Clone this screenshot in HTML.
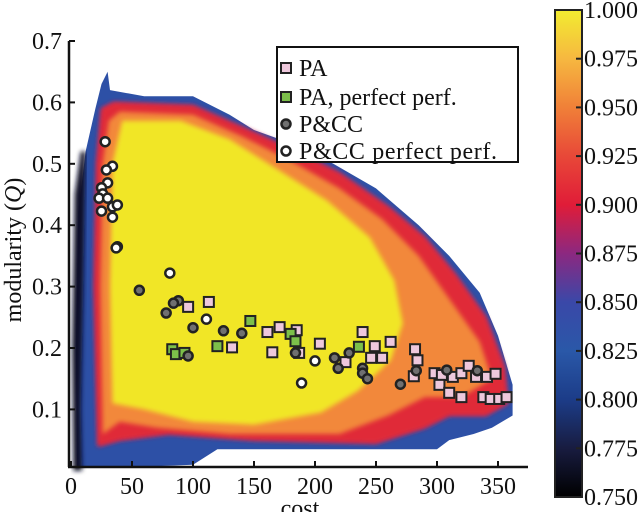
<!DOCTYPE html>
<html><head><meta charset="utf-8"><style>
html,body{margin:0;padding:0;background:#fff;}
svg{display:block;font-family:"Liberation Serif",serif;}
</style></head><body>
<svg id="chart" width="640" height="512" viewBox="0 0 640 512" xmlns="http://www.w3.org/2000/svg">
<defs>
<linearGradient id="cbar" x1="0" y1="1" x2="0" y2="0">
<stop offset="0" stop-color="#000000"/>
<stop offset="0.1" stop-color="#181c40"/>
<stop offset="0.2" stop-color="#1c3c88"/>
<stop offset="0.3" stop-color="#2a58a8"/>
<stop offset="0.4" stop-color="#3a48a8"/>
<stop offset="0.5" stop-color="#8c2880"/>
<stop offset="0.6" stop-color="#e01c38"/>
<stop offset="0.7" stop-color="#e84838"/>
<stop offset="0.8" stop-color="#f08038"/>
<stop offset="0.9" stop-color="#f6b840"/>
<stop offset="1" stop-color="#f2ec30"/>
</linearGradient>
<filter id="soft" x="-10%" y="-10%" width="120%" height="120%"><feGaussianBlur stdDeviation="2.5"/></filter>
</defs>
<g id="heat"></g>
<g id="axes"></g>
<g id="marks"></g>
<g id="legend"></g>
<g id="colorbar"></g>
</svg>
<script>
// data
const xTicks = [0, 50, 100, 150, 200, 250, 300, 350];
const yTicks = [0.1, 0.2, 0.3, 0.4, 0.5, 0.6, 0.7];
const cbTicks = [1.000, 0.975, 0.950, 0.925, 0.900, 0.875, 0.850, 0.825, 0.800, 0.775, 0.750];
const paCost = [113,96,161,171,185,132,165,187,204,225,239,249,246,255,262,282,284,281,298,304,302,310,313,320,326,332,341,348,320,338,344,351,357];
const paQ = [0.275,0.267,0.226,0.234,0.229,0.201,0.193,0.192,0.207,0.177,0.226,0.203,0.184,0.184,0.210,0.198,0.180,0.154,0.159,0.156,0.140,0.127,0.153,0.159,0.171,0.153,0.153,0.158,0.120,0.120,0.117,0.117,0.120];
const paPerfCost = [147,120,83,86,93,180,184,236];
const paPerfQ = [0.244,0.203,0.198,0.190,0.192,0.223,0.211,0.202];
const pccCost = [56,88,84,78,100,125,140,96,184,216,228,219,239,239,243,270,283,308,333];
const pccQ = [0.294,0.277,0.273,0.257,0.233,0.228,0.224,0.187,0.192,0.184,0.192,0.167,0.167,0.159,0.150,0.141,0.163,0.164,0.163];
const pccPerfCost = [38,81,111,200,189,28,34,29,30,25,26,23,30,25,34,38,34,37];
const pccPerfQ = [0.365,0.322,0.247,0.179,0.143,0.536,0.496,0.490,0.469,0.461,0.451,0.444,0.444,0.423,0.430,0.433,0.413,0.363];
// heatmap region outlines (cost, Q)
const darkCost = [2,1,3,8,12,10,8,9];
const darkQ = [0.0,0.2,0.45,0.52,0.52,0.3,0.1,0.0];
const blueCost = [5,4,6,12,20,25,30,32,60,100,130,150,185,215,250,285,310,335,350,362,362,345,330,310,300,230,120,100,40,20];
const blueQ = [0.005,0.2,0.42,0.52,0.59,0.63,0.65,0.62,0.61,0.61,0.58,0.555,0.53,0.5,0.46,0.4,0.35,0.29,0.22,0.14,0.09,0.07,0.06,0.05,0.035,0.035,0.035,0.01,0.005,0.005];
const redCost = [22,19,21,25,35,100,140,185,220,260,290,315,340,355,358,340,310,290,250,150,80,40];
const redQ = [0.04,0.3,0.5,0.59,0.6,0.595,0.56,0.52,0.485,0.43,0.38,0.32,0.25,0.17,0.11,0.09,0.09,0.07,0.045,0.05,0.06,0.05];
const orangeCost = [26,24,26,31,40,100,140,180,220,255,285,310,335,345,320,290,260,220,130,70,40];
const orangeQ = [0.06,0.3,0.5,0.57,0.585,0.58,0.545,0.505,0.46,0.41,0.35,0.28,0.21,0.15,0.12,0.12,0.09,0.06,0.06,0.07,0.08];
const yellowCost = [34,32,34,42,90,130,170,210,245,265,272,262,235,205,150,100,60];
const yellowQ = [0.11,0.3,0.5,0.57,0.57,0.54,0.49,0.44,0.38,0.31,0.24,0.18,0.13,0.095,0.075,0.08,0.1];

const NS = "http://www.w3.org/2000/svg";
const X = c => 71 + 1.22 * c;
const Y = q => 41 + (0.7 - q) * 614;
const CB = v => 10 + (1.0 - v) / 0.25 * 487;
function mk(tag, attrs, parent) {
  const e = document.createElementNS(NS, tag);
  for (const k in attrs) e.setAttribute(k, attrs[k]);
  parent.appendChild(e);
  return e;
}
const heat = document.getElementById('heat');
function layer(cs, qs, fill, name, blur) {
  const pts = cs.map((c, i) => X(c).toFixed(1) + ',' + Y(qs[i]).toFixed(1)).join(' ');
  const p = mk('polygon', {points: pts, fill: fill}, heat);
  if (blur) p.setAttribute('filter', 'url(#soft)');
  
  
}
layer(blueCost, blueQ, '#2d50a6', 'heat-blue-band', false);
layer(darkCost, darkQ, '#0c0f26', 'heat-dark-edge', true);
layer(redCost, redQ, '#b42a6a', 'heat-purple-band', true);
layer(redCost, redQ, '#e02a38', 'heat-red-band', true);
layer(orangeCost, orangeQ, '#f2883a', 'heat-orange-band', true);
layer(yellowCost, yellowQ, '#f1e628', 'heat-yellow-core', true);

// axes
const axes = document.getElementById('axes');
let a = mk('line', {x1: 69, y1: 41, x2: 69, y2: 467, stroke: '#111', 'stroke-width': 2.5}, axes);


a = mk('line', {x1: 68, y1: 467, x2: 528, y2: 467, stroke: '#111', 'stroke-width': 2.5}, axes);


xTicks.forEach(t => {
  const tk = mk('line', {x1: X(t), y1: 467, x2: X(t), y2: 461, stroke: '#111', 'stroke-width': 2}, axes);
  
  
  const tx = mk('text', {x: X(t), y: 494, 'text-anchor': 'middle', 'font-size': 24, fill: '#111'}, axes);
  tx.textContent = String(t);
  
  
});
yTicks.forEach(t => {
  const tk = mk('line', {x1: 69, y1: Y(t), x2: 75, y2: Y(t), stroke: '#111', 'stroke-width': 2}, axes);
  
  
  const tx = mk('text', {x: 62, y: Y(t) + 8, 'text-anchor': 'end', 'font-size': 24, fill: '#111'}, axes);
  tx.textContent = t.toFixed(1);
  
  
});
let t = mk('text', {x: 300, y: 516, 'text-anchor': 'middle', 'font-size': 24, fill: '#111'}, axes);
t.textContent = 'cost';


t = mk('text', {x: 0, y: 0, 'text-anchor': 'middle', 'font-size': 24, fill: '#111', transform: 'translate(21,250) rotate(-90)'}, axes);
t.innerHTML = 'modularity (<tspan font-style="italic">Q</tspan>)';



// markers
const marks = document.getElementById('marks');
function square(cx, cy, fill, parent) {
  return mk('rect', {x: cx - 5, y: cy - 5, width: 10, height: 10, fill: fill, stroke: '#222', 'stroke-width': 2}, parent);
}
function circ(cx, cy, fill, parent) {
  return mk('circle', {cx: cx, cy: cy, r: 4.5, fill: fill, stroke: '#222', 'stroke-width': 2.5}, parent);
}
paCost.forEach((c, i) => {
  const m = square(X(c), Y(paQ[i]), '#eec8dc', marks);
  
  
});
paPerfCost.forEach((c, i) => {
  const m = square(X(c), Y(paPerfQ[i]), '#7cbf4a', marks);
  
  
});
pccCost.forEach((c, i) => {
  const m = circ(X(c), Y(pccQ[i]), '#707070', marks);
  
  
});
pccPerfCost.forEach((c, i) => {
  const m = circ(X(c), Y(pccPerfQ[i]), '#ffffff', marks);
  
  
});

// legend
const lg = document.getElementById('legend');


mk('rect', {x: 277, y: 47, width: 241, height: 115, fill: '#fff', stroke: '#111', 'stroke-width': 2}, lg);
const legLabels = ['PA', 'PA, perfect perf.', 'P&CC', 'P&CC perfect perf.'];
const legY = [68, 97, 124, 151];
legLabels.forEach((l, i) => {
  let m;
  if (i === 0) m = square(286, legY[i], '#eec8dc', lg);
  if (i === 1) m = square(286, legY[i], '#7cbf4a', lg);
  if (i === 2) m = circ(286, legY[i], '#707070', lg);
  if (i === 3) m = circ(286, legY[i], '#ffffff', lg);
  
  
  const tx = mk('text', {x: 299, y: legY[i] + 8, 'font-size': 24, fill: '#111', textLength: i === 3 ? 198 : null}, lg);
  if (i !== 3) tx.removeAttribute('textLength');
  tx.textContent = l;
  
  
});

// colorbar
const cb = document.getElementById('colorbar');


mk('rect', {x: 555, y: 10, width: 27, height: 487, fill: 'url(#cbar)', stroke: '#222', 'stroke-width': 2}, cb);
cbTicks.forEach(v => {
  const tk = mk('line', {x1: 576, y1: CB(v), x2: 582, y2: CB(v), stroke: '#222', 'stroke-width': 2}, cb);
  
  
  const tx = mk('text', {x: 584, y: CB(v) + 8, 'font-size': 24, fill: '#111'}, cb);
  tx.textContent = v.toFixed(3);
  
  
});
</script>
</body></html>
